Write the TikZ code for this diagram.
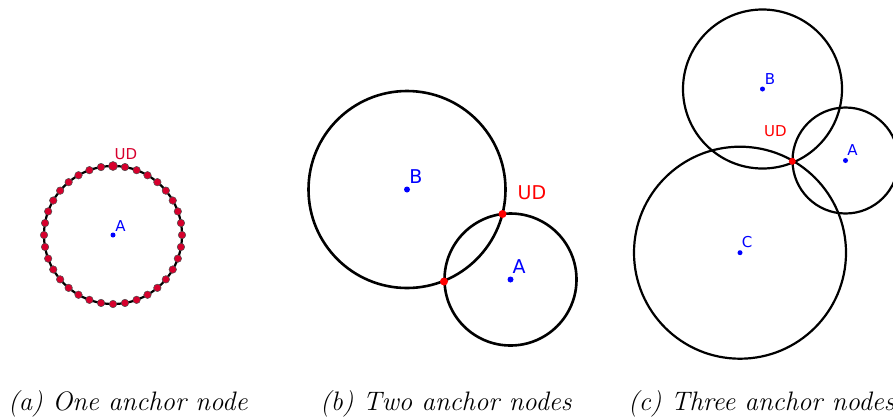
\documentclass[tikz,border=0pt]{standalone}
\usepackage{fontspec}
\usepackage{tikz}
\usetikzlibrary{calc}
\newfontfamily\geofont{DejaVu Sans}
\definecolor{udred}{RGB}{255,0,0}
\definecolor{ptblue}{RGB}{0,0,255}
\definecolor{ringred}{RGB}{215,0,45}
\tikzset{
  ring/.style={draw=black, line width=2.2pt},
  centre/.style={circle, fill=ptblue, inner sep=0pt, minimum size=5pt},
  udpoint/.style={circle, fill=udred, inner sep=0pt, minimum size=8pt},
  ringpoint/.style={circle, fill=ringred, draw=black!70, line width=0.5pt, inner sep=0pt, minimum size=7.5pt},
  ptlabel/.style={text=ptblue, font=\geofont\fontsize{#1}{#1}\selectfont, inner sep=0pt},
  udlabel/.style={text=udred, font=\geofont\fontsize{#1}{#1}\selectfont, inner sep=0pt},
  subcap/.style={anchor=base west, inner sep=0pt, font=\fontsize{26.7}{32}\selectfont\itshape}
}

\begin{document}
\begin{tikzpicture}[x=1pt, y=-1pt]
	\useasboundingbox (0,0) rectangle (893,416);
	% (a) one anchor node
	\node[centre] (a-A) at (113,235) {};
	\draw[ring, line width=2.2pt] (a-A) circle[radius=69pt];
	\foreach \k in {0,...,35} {
		\node[ringpoint] (a-p\k) at ($(a-A)+(90+10*\k:69pt)$) {};
	}
	\node[ringpoint, minimum size=9pt] (a-UD) at ($(a-A)+(0,-69)$) {};
	\node[ptlabel=15] (a-Alab) at (120.5,226) {A};
	\node[udlabel=15, text=ringred] (a-UDlab) at (126,154) {UD};
	% (b) two anchor nodes
	\node[centre, minimum size=6pt] (b-B) at (407,189.5) {};
	\node[centre, minimum size=6pt] (b-A) at (510.5,279.5) {};
	\draw[ring, line width=2.6pt] (b-B) circle[radius=98.5pt];
	\draw[ring, line width=2.6pt] (b-A) circle[radius=66pt];
	\node[udpoint] (b-UD) at (502.5,214) {};
	\node[udpoint] (b-UD2) at (444,281.5) {};
	\node[ptlabel=19] (b-Blab) at (416,177) {B};
	\node[ptlabel=19] (b-Alab) at (519,267) {A};
	\node[udlabel=19] (b-UDlab) at (532,193) {UD};
	% (c) three anchor nodes
	\node[centre] (c-B) at (762.5,89) {};
	\node[centre] (c-A) at (845.5,160.5) {};
	\node[centre] (c-C) at (740,252.7) {};
	\draw[ring] (c-B) circle[radius=79.5pt];
	\draw[ring] (c-A) circle[radius=53pt];
	\draw[ring] (c-C) circle[radius=106pt];
	\node[udpoint, minimum size=7pt] (c-UD) at (792.3,161.3) {};
	\node[ptlabel=15] (c-Blab) at (770,79) {B};
	\node[ptlabel=15] (c-Alab) at (852.5,150.5) {A};
	\node[ptlabel=15] (c-Clab) at (747,242) {C};
	\node[udlabel=15] (c-UDlab) at (775.5,131.5) {UD};
	% captions
	\node[subcap] (capa) at (8,410) {(a) One anchor node};
	\node[subcap] (capb) at (320,410) {(b) Two anchor nodes};
	\node[subcap] (capc) at (628,410) {(c) Three anchor nodes};
\end{tikzpicture}
\end{document}
